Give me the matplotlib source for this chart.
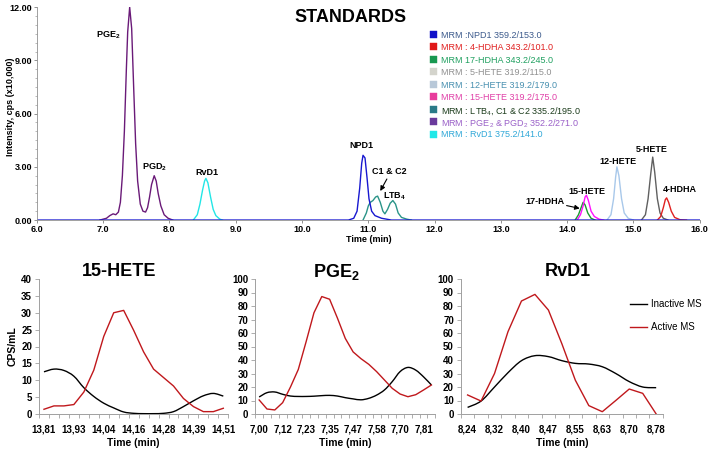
import numpy as np
import matplotlib
matplotlib.use("Agg")
import matplotlib.pyplot as plt
from matplotlib.patches import PathPatch, Rectangle
from matplotlib.path import Path

plt.rcParams['font.family'] = ['Liberation Sans', 'DejaVu Sans']
plt.rcParams['mathtext.fontset'] = 'custom'
plt.rcParams['mathtext.rm'] = 'Liberation Sans'
plt.rcParams['mathtext.bf'] = 'Liberation Sans:bold'
plt.rcParams['mathtext.it'] = 'Liberation Sans:italic'

# ---- chromatogram traces (time in min, intensity x10,000 cps) ----
npd1_t = [6.0, 10.70, 10.78, 10.83, 10.87, 10.90, 10.92, 10.95, 10.98, 11.01, 11.05, 11.10, 11.20, 11.35, 16.0]
npd1_y = [0, 0, 0.1, 0.5, 1.8, 3.2, 3.65, 3.5, 2.4, 1.2, 0.5, 0.25, 0.1, 0, 0]

pg_t = [6.95, 7.05, 7.10, 7.15, 7.19, 7.23, 7.26, 7.29, 7.32, 7.35, 7.37, 7.40, 7.43, 7.46, 7.49,
        7.52, 7.56, 7.60, 7.64, 7.67, 7.70, 7.73, 7.77, 7.80, 7.83, 7.87, 7.92, 7.98, 8.05]
pg_y = [0, 0.1, 0.25, 0.35, 0.3, 0.45, 1.0, 2.5, 5.0, 8.5, 10.6, 12.0, 10.8, 7.5, 4.3,
        2.2, 0.9, 0.5, 0.45, 0.7, 1.3, 2.0, 2.5, 2.2, 1.5, 0.8, 0.3, 0.1, 0]

rvd1_t = [8.36, 8.42, 8.46, 8.50, 8.53, 8.55, 8.58, 8.62, 8.66, 8.70, 8.76, 8.80]
rvd1_y = [0, 0.3, 0.9, 1.7, 2.2, 2.35, 2.1, 1.3, 0.6, 0.25, 0.05, 0]

ltb4_t = [10.92, 10.97, 11.00, 11.03, 11.07, 11.11, 11.14, 11.18, 11.22, 11.25, 11.29,
          11.33, 11.37, 11.41, 11.45, 11.50, 11.58, 11.65]
ltb4_y = [0, 0.4, 0.8, 1.0, 1.1, 1.3, 1.35, 1.0, 0.5, 0.35, 0.6, 0.95, 1.1, 0.9, 0.4, 0.15, 0.05, 0]

hdha17_t = [14.12, 14.17, 14.21, 14.24, 14.27, 14.31, 14.36, 14.42]
hdha17_y = [0, 0.3, 0.7, 1.0, 0.85, 0.4, 0.1, 0]

hete15_t = [14.15, 14.20, 14.24, 14.27, 14.29, 14.32, 14.36, 14.41, 14.48, 14.55]
hete15_y = [0, 0.3, 0.8, 1.3, 1.4, 1.1, 0.5, 0.2, 0.05, 0]

hete12_t = [14.60, 14.66, 14.70, 14.73, 14.75, 14.78, 14.82, 14.86, 14.92, 15.0]
hete12_y = [0, 0.3, 1.2, 2.4, 3.0, 2.5, 1.2, 0.4, 0.1, 0]

hete5_t = [15.12, 15.18, 15.22, 15.26, 15.29, 15.32, 15.36, 15.40, 15.45, 15.52]
hete5_y = [0, 0.3, 1.2, 2.6, 3.55, 2.7, 1.2, 0.4, 0.1, 0]

hdha4_t = [15.36, 15.41, 15.45, 15.48, 15.50, 15.53, 15.57, 15.62, 15.70, 15.80]
hdha4_y = [0, 0.2, 0.7, 1.15, 1.25, 1.0, 0.5, 0.15, 0.02, 0]

legend_labels = ["MRM :NPD1 359.2/153.0", "MRM : 4-HDHA 343.2/101.0", "MRM 17-HDHA 343.2/245.0",
                 "MRM : 5-HETE 319.2/115.0", "MRM : 12-HETE 319.2/179.0", "MRM : 15-HETE 319.2/175.0",
                 r"MRM : LTB$_\mathrm{4}$, C1 & C2 335.2/195.0",
                 r"MRM : PGE$_\mathrm{2}$ & PGD$_\mathrm{2}$ 352.2/271.0", "MRM : RvD1 375.2/141.0"]
legend_box_colors = ["#1010c8", "#e01818", "#189850", "#d4d4cc", "#b8c8d8", "#e83c9c",
                     "#2a7a88", "#6a3a9c", "#20e8e8"]
legend_text_colors = ["#3c5a8c", "#e02020", "#20a060", "#909090", "#4890b0", "#e040a8",
                      "#1c3c1c", "#9a60c8", "#30a8d8"]

# ---- bottom panels: CPS/mL, sampled every ~0.0386 min ----
hete15_labels = ["13,81", "13,93", "14,04", "14,16", "14,28", "14,39", "14,51"]
hete15_inactive = [12.5, 13.3, 12.9, 11.2, 7.8, 5.2, 3.2, 1.8, 0.6, 0.2, 0.1, 0.1, 0.2, 0.7,
                   2.2, 3.9, 5.4, 6.1, 5.3]
hete15_active = [1.4, 2.4, 2.4, 2.8, 6.5, 13.0, 23.0, 30.0, 30.7, 24.8, 18.4, 13.3, 10.8, 8.3,
                 4.6, 2.2, 0.7, 0.7, 1.7]

pge2_labels = ["7,00", "7,12", "7,23", "7,35", "7,47", "7,58", "7,70", "7,81"]
pge2_inactive = [12.6, 15.8, 16.3, 14.6, 13.3, 13.0, 13.0, 13.2, 13.6, 13.8, 13.3, 12.1, 11.2,
                 10.5, 11.6, 14.0, 17.8, 24.0, 31.4, 34.5, 32.5, 27.5, 21.5]
pge2_active = [10.4, 3.7, 3.0, 8.4, 20.0, 33.0, 53.6, 75.0, 87.0, 85.0, 71.0, 56.0, 46.0, 41.0,
               36.8, 31.4, 25.2, 19.0, 14.8, 12.8, 14.3, 17.8, 21.5]

rvd1_labels = ["8,24", "8,32", "8,40", "8,47", "8,55", "8,63", "8,70", "8,78"]
rvd1_inactive = [4.9, 9.6, 20.0, 30.6, 39.5, 43.2, 42.5, 39.5, 37.5, 37.0, 35.0, 30.0, 24.0,
                 20.0, 19.5]
rvd1_active = [14.1, 9.6, 30.0, 61.0, 83.7, 88.6, 77.0, 52.0, 25.0, 6.2, 1.7, 10.0, 18.5,
               15.3, 0.0]


def smooth_path(x, y):
    # Catmull-Rom style bezier through the points (like a spreadsheet "smoothed line")
    x = np.asarray(x, float)
    y = np.asarray(y, float)
    verts = [(x[0], y[0])]
    codes = [Path.MOVETO]
    n = len(x)
    for i in range(n - 1):
        x0, y0 = (x[i - 1], y[i - 1]) if i > 0 else (x[i], y[i])
        x3, y3 = (x[i + 2], y[i + 2]) if i + 2 < n else (x[i + 1], y[i + 1])
        c1 = (x[i] + (x[i + 1] - x0) / 6, y[i] + (y[i + 1] - y0) / 6)
        c2 = (x[i + 1] - (x3 - x[i]) / 6, y[i + 1] - (y3 - y[i]) / 6)
        verts += [c1, c2, (x[i + 1], y[i + 1])]
        codes += [Path.CURVE4] * 3
    return Path(verts, codes)


W, H = 709, 450
fig = plt.figure(figsize=(W / 100, H / 100), dpi=100)

# ================= top chromatogram =================
ax = fig.add_axes([0.052, 0.511, 0.935, 0.473])
lw = 1.0
ax.plot(pg_t, pg_y, color="#6a1a78", lw=lw)
ax.plot(rvd1_t, rvd1_y, color="#22e6e6", lw=lw)
ax.plot(ltb4_t, ltb4_y, color="#2a9488", lw=lw)
ax.plot(hdha17_t, hdha17_y, color="#1a9a30", lw=lw)
ax.plot(hete15_t, hete15_y, color="#ff10ff", lw=lw)
ax.plot(hete12_t, hete12_y, color="#a8c8ea", lw=lw)
ax.plot(hete5_t, hete5_y, color="#606060", lw=lw)
ax.plot(hdha4_t, hdha4_y, color="#e02020", lw=lw)
ax.plot(npd1_t, npd1_y, color="#1818d0", lw=lw)

ax.set_xlim(6.0, 16.0)
ax.set_ylim(0, 12)
ax.set_xticks(np.arange(6, 16.01, 1.0))
ax.set_xticklabels([f"{v:.1f}" for v in np.arange(6, 16.01, 1.0)], fontsize=6.5, fontweight="bold")
ax.set_yticks([0, 3, 6, 9, 12])
ax.set_yticklabels(["0.00", "3.00", "6.00", "9.00", "12.00"], fontsize=6.5, fontweight="bold")
ax.set_yticks(np.arange(0, 12.01, 0.5), minor=True)
ax.tick_params(axis="both", length=2, width=0.6, color="#808080", pad=1.5)
ax.tick_params(axis="y", which="minor", length=1.2, width=0.5, color="#a0a0a0")
for s in ["top", "right"]:
    ax.spines[s].set_visible(False)
for s in ["left", "bottom"]:
    ax.spines[s].set_color("#909090")
    ax.spines[s].set_linewidth(0.6)
ax.set_xlabel("Time (min)", fontsize=6.5, fontweight="bold", labelpad=1)
ax.set_ylabel("Intensity, cps (x10,000)", fontsize=6.5, fontweight="bold")
ax.yaxis.set_label_coords(-0.033, 0.53)

fig.text(0.495, 0.962, "STANDARDS", fontsize=13, fontweight="bold", ha="center", va="center")

kw = dict(fontsize=6.5, fontweight="bold", ha="center", va="center")
ax.text(7.07, 10.4, r"PGE$_\mathbf{2}$", **kw)
ax.text(7.78, 2.95, r"PGD$_\mathbf{2}$", **kw)
ax.text(8.56, 2.7, "RvD1", **kw)
ax.text(10.90, 4.2, "NPD1", **kw)
ax.text(11.32, 2.76, "C1 & C2", **kw)
ax.text(11.40, 1.35, r"LTB$_\mathbf{4}$", **kw)
ax.text(13.66, 1.07, "17-HDHA", **kw)
ax.text(14.30, 1.63, "15-HETE", **kw)
ax.text(14.76, 3.3, "12-HETE", **kw)
ax.text(15.28, 4.0, "5-HETE", **kw)
ax.text(15.70, 1.7, "4-HDHA", **kw)
ax.annotate("", xy=(11.16, 1.5), xytext=(11.30, 2.45),
            arrowprops=dict(arrowstyle="-|>", color="black", lw=0.8, mutation_scale=7))
ax.annotate("", xy=(14.23, 0.62), xytext=(13.95, 0.85),
            arrowprops=dict(arrowstyle="-|>", color="black", lw=0.8, mutation_scale=7))

# legend of MRM transitions: colored squares with colored text
for i, (lab, bc, tc) in enumerate(zip(legend_labels, legend_box_colors, legend_text_colors)):
    yc = 34 + i * 12.5
    fig.add_artist(Rectangle((430 / W, 1 - (yc + 3.5) / H), 7 / W, 7 / H,
                             transform=fig.transFigure, facecolor=bc, edgecolor=bc, lw=0.3))
    fig.text(441 / W, 1 - yc / H, lab, fontsize=6.5, color=tc, ha="left", va="center_baseline")

# ================= bottom panels =================
panels = [
    ([0.055, 0.08, 0.267, 0.30], "15-HETE", 119, hete15_inactive, hete15_active, hete15_labels, 3, 40, 5),
    ([0.360, 0.08, 0.254, 0.30], r"PGE$_\mathbf{2}$", 336, pge2_inactive, pge2_active, pge2_labels, 3, 100, 10),
    ([0.650, 0.08, 0.285, 0.30], "RvD1", 568, rvd1_inactive, rvd1_active, rvd1_labels, 2, 100, 10),
]
for k, (pos, title, tx, inactive, active, labels, step, ymax, ystep) in enumerate(panels):
    b = fig.add_axes(pos)
    idx = np.arange(len(active))
    b.add_patch(PathPatch(smooth_path(idx, inactive), facecolor="none", edgecolor="black", lw=1.0))
    b.plot(idx, active, color="#c0181c", lw=1.0)
    b.set_xlim(-0.5, len(active) - 0.5)
    b.set_ylim(0, ymax)
    b.set_xticks(np.arange(0, step * len(labels), step))
    b.set_xticklabels(labels, fontsize=7, fontweight="bold")
    b.set_xticks(np.arange(-0.5, len(active), 1.0), minor=True)
    b.set_yticks(np.arange(0, ymax + 0.1, ystep))
    b.set_yticklabels([str(int(v)) for v in np.arange(0, ymax + 0.1, ystep)], fontsize=7,
                      fontweight="bold")
    b.tick_params(axis="x", which="major", length=0, pad=7.5)
    b.tick_params(axis="x", which="minor", length=3, width=0.6, color="#a0a0a0")
    b.tick_params(axis="y", length=3, width=0.6, color="#a0a0a0", pad=2)
    for s in ["top", "right"]:
        b.spines[s].set_visible(False)
    for s in ["left", "bottom"]:
        b.spines[s].set_color("#a0a0a0")
        b.spines[s].set_linewidth(0.7)
    b.set_xlabel("Time (min)", fontsize=7.5, fontweight="bold")
    b.xaxis.set_label_coords(0.5, -0.18)
    fig.text(tx / W, 1 - 272 / H, title, fontsize=13, fontweight="bold", ha="center", va="center")
    if k == 0:
        b.set_ylabel("CPS/mL", fontsize=7.5, fontweight="bold")
        b.yaxis.set_label_coords(-0.115, 0.5)
    if k == 2:
        b.plot([], [], color="black", lw=1.0, label="Inactive MS")
        b.plot([], [], color="#c0181c", lw=1.0, label="Active MS")
        b.legend(loc="upper left", bbox_to_anchor=(0.8886, 0.3356), bbox_transform=fig.transFigure,
                 frameon=False, fontsize=7, handlelength=1.75, handletextpad=0.4,
                 labelspacing=1.35, borderpad=0, borderaxespad=0)

fig.savefig("out.png", dpi=100)
